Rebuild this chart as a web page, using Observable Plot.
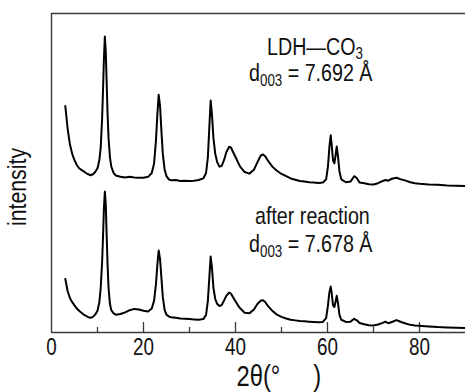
<!DOCTYPE html>
<html>
<head>
<meta charset="utf-8">
<script src="https://cdn.jsdelivr.net/npm/d3@7"></script>
<script src="https://cdn.jsdelivr.net/npm/@observablehq/plot@0.6"></script>
<style>
  html, body { margin: 0; padding: 0; background: #fff; }
  #chart svg { display: block; }
</style>
</head>
<body>
<div id="chart"></div>
<script>
// 2θ positions (degrees) shared by both patterns
const twoTheta = [
  3.0, 3.5, 4.0, 4.5, 5.0, 5.5, 6.0, 6.5, 7.0, 7.5,
  8.0, 8.5, 9.0, 9.5, 10.0, 10.4, 10.7, 11.0, 11.2, 11.4,
  11.6, 11.8, 12.0, 12.2, 12.4, 12.7, 13.0, 13.5, 14.0, 15,
  16, 17, 18, 19, 20, 21, 21.8, 22.3, 22.7, 23.0,
  23.3, 23.6, 23.9, 24.2, 24.6, 25.0, 25.5, 26, 27, 28,
  29, 30, 31, 32, 33, 33.6, 34.0, 34.3, 34.6, 34.9,
  35.2, 35.6, 36.0, 36.5, 37.0, 37.5, 38.0, 38.6, 39.0, 39.5,
  40.0, 40.5, 41, 42, 43, 44, 44.8, 45.5, 46.0, 46.5,
  47, 48, 49, 50, 51, 52, 53, 54, 55, 56,
  57, 58, 59, 59.7, 60.1, 60.4, 60.7, 60.9, 61.2, 61.5,
  61.8, 62.0, 62.3, 62.6, 63.0, 64, 65, 65.8, 66.3, 67,
  68, 69, 70, 71, 72, 72.6, 73.2, 74, 75, 76,
  77, 78, 79, 80, 82, 84, 86, 88, 90
];
// LDH–CO3 pattern (offset upward, arbitrary intensity)
const ldhCO3 = [
  71, 64, 59, 56, 54, 52.5, 51.5, 51, 50.5, 50,
  49.6, 49.3, 49.6, 50.3, 51.5, 54, 58, 67, 76, 86,
  92.8, 88, 78, 68, 61, 55, 52, 50, 49.2, 48.8,
  48.6, 48.8, 48.6, 48.5, 48.5, 48.8, 50, 53, 60, 68,
  74.5, 71, 63, 56, 51, 49, 48, 47.7, 47.8, 47.5,
  47.6, 47.5, 47.6, 47.8, 48.3, 50, 55, 64, 72.7, 68,
  61, 56, 53.5, 52, 52.2, 54, 56.5, 58.2, 58, 56.5,
  55, 53.5, 52, 50.3, 49.8, 51, 53.5, 55.5, 55.8, 55.2,
  54, 52, 50.7, 49.7, 49, 48.3, 47.9, 47.5, 47.3, 47.1,
  47, 46.9, 47, 48, 52, 58, 61.8, 59, 54, 53,
  56, 58.3, 55, 50.5, 48, 47.1, 47.3, 49, 48.5, 47,
  46.8, 46.5, 46.4, 46.8, 47.5, 47.8, 47.6, 48.2, 48.5, 48,
  47.6, 47.1, 46.8, 46.6, 46.4, 46.3, 46.1, 46.0, 45.9
];
// after reaction pattern
const afterReaction = [
  16.8, 13, 10.8, 9.5, 8.5, 7.5, 6.8, 6.2, 5.6, 5.2,
  4.8, 4.6, 4.9, 5.6, 6.8, 9.5, 14, 22, 30, 39,
  44.2, 40, 30, 21, 14, 9, 7, 6, 5.6, 5.8,
  6.3, 7, 7.4, 7.2, 6.8, 6.6, 7.5, 10, 15, 21,
  25.7, 23, 17, 11, 7, 5.6, 5, 4.8, 4.6, 4.4,
  4.3, 4.2, 4.1, 4, 4.2, 5.5, 10, 17, 23.8, 20,
  14, 10.5, 9, 8.3, 8.6, 10, 11.5, 12.5, 12.2, 11,
  9.8, 8.6, 7.6, 6.2, 6, 7.2, 9, 10, 10.1, 9.5,
  8.4, 6.8, 5.6, 4.9, 4.4, 4, 3.8, 3.6, 3.5, 3.4,
  3.3, 3.2, 3.3, 4.5, 8.5, 12.5, 14.4, 12.5, 8.5, 8,
  10, 11.5, 9, 5.5, 4, 3.3, 3.4, 4.3, 3.9, 3,
  2.6, 2.3, 2.2, 2.5, 3, 3.4, 2.9, 3.3, 3.9, 3.3,
  2.8, 2.4, 2.2, 2.1, 1.9, 1.7, 1.6, 1.5, 1.4
];
const majorTicks = [0, 20, 40, 60, 80];
const tickLabels = ["0", "20", "40", "60", "80"];
const minorTicks = [10, 30, 50, 70];
const xLabel = "2θ(°\u00A0\u00A0\u00A0\u00A0\u00A0)";
const yLabel = "intensity";
const labelTop = ["LDH—CO", "3"];
const dTop = ["d", "003", " = 7.692 Å"];
const labelBottom = "after reaction";
const dBottom = ["d", "003", " = 7.678 Å"];

const topData = twoTheta.map((x, i) => ({x, y: ldhCO3[i]}));
const botData = twoTheta.map((x, i) => ({x, y: afterReaction[i]}));

const font = "'Liberation Sans', Arial, Helvetica, sans-serif";
const squeeze = 0.82; // condensed look of the original lettering
const frameColor = "#3a3a3a";

const plot = Plot.plot({
  width: 465,
  height: 392,
  marginLeft: 51,
  marginRight: 0,
  marginTop: 13,
  marginBottom: 60,
  style: {fontFamily: font, background: "#fff", color: "#111"},
  x: {domain: [0, 90]},
  y: {domain: [0, 100], axis: null},
  marks: [
    Plot.ruleY([100], {stroke: frameColor, strokeWidth: 1.4}),
    Plot.ruleX([0], {stroke: frameColor, strokeWidth: 1.4}),
    Plot.ruleY([0], {stroke: frameColor, strokeWidth: 1.4}),
    Plot.tickX(majorTicks.slice(1), {x: d => d, insetTop: 309, stroke: frameColor, strokeWidth: 1.3}),
    Plot.tickX(minorTicks, {x: d => d, insetTop: 314, stroke: frameColor, strokeWidth: 1.3}),
    Plot.axisX({ticks: majorTicks, tickFormat: (d, i) => tickLabels[i], tickSize: 0, tickPadding: 6, fontSize: 23, label: null, fill: "#111"}),
    Plot.line(topData, {x: "x", y: "y", stroke: "#000", strokeWidth: 2, strokeLinejoin: "round"}),
    Plot.line(botData, {x: "x", y: "y", stroke: "#000", strokeWidth: 2, strokeLinejoin: "round"}),
    Plot.text([xLabel], {frameAnchor: "bottom-left", text: d => d, dx: 185, dy: 44, textAnchor: "start", lineAnchor: "middle", fontSize: 29, fill: "#111"}),
    Plot.text([yLabel], {frameAnchor: "left", text: d => d, dx: -34, dy: 14, rotate: -90, textAnchor: "middle", lineAnchor: "middle", fontSize: 26, fill: "#111"})
  ]
});

document.getElementById("chart").appendChild(plot);

// condensed lettering: squeeze every text horizontally about its own anchor
d3.select(plot).selectAll("text").each(function() {
  const t = this.getAttribute("transform") || "";
  this.setAttribute("transform", `${t} scale(${squeeze},1)`);
});

// Annotations with subscripts (real SVG text)
const g = d3.select(plot).append("g")
  .attr("font-family", font).attr("fill", "#111").attr("text-anchor", "start");
function addLine(x, y, parts, size) {
  const t = g.append("text")
    .attr("transform", `translate(${x},${y}) scale(${squeeze},1)`)
    .attr("font-size", size);
  parts.forEach(p => {
    const ts = t.append("tspan").text(p.text);
    if (p.sub) ts.attr("font-size", size * 0.68).attr("dy", p.dy);
    else if (p.dy) ts.attr("dy", p.dy);
  });
}
addLine(267, 55, [{text: labelTop[0]}, {text: labelTop[1], sub: true, dy: 4}], 24);
addLine(249, 81, [{text: dTop[0]}, {text: dTop[1], sub: true, dy: 5}, {text: dTop[2], dy: -5}], 24);
addLine(255, 224, [{text: labelBottom}], 24);
addLine(249, 252, [{text: dBottom[0]}, {text: dBottom[1], sub: true, dy: 5}, {text: dBottom[2], dy: -5}], 24);
</script>
</body>
</html>
